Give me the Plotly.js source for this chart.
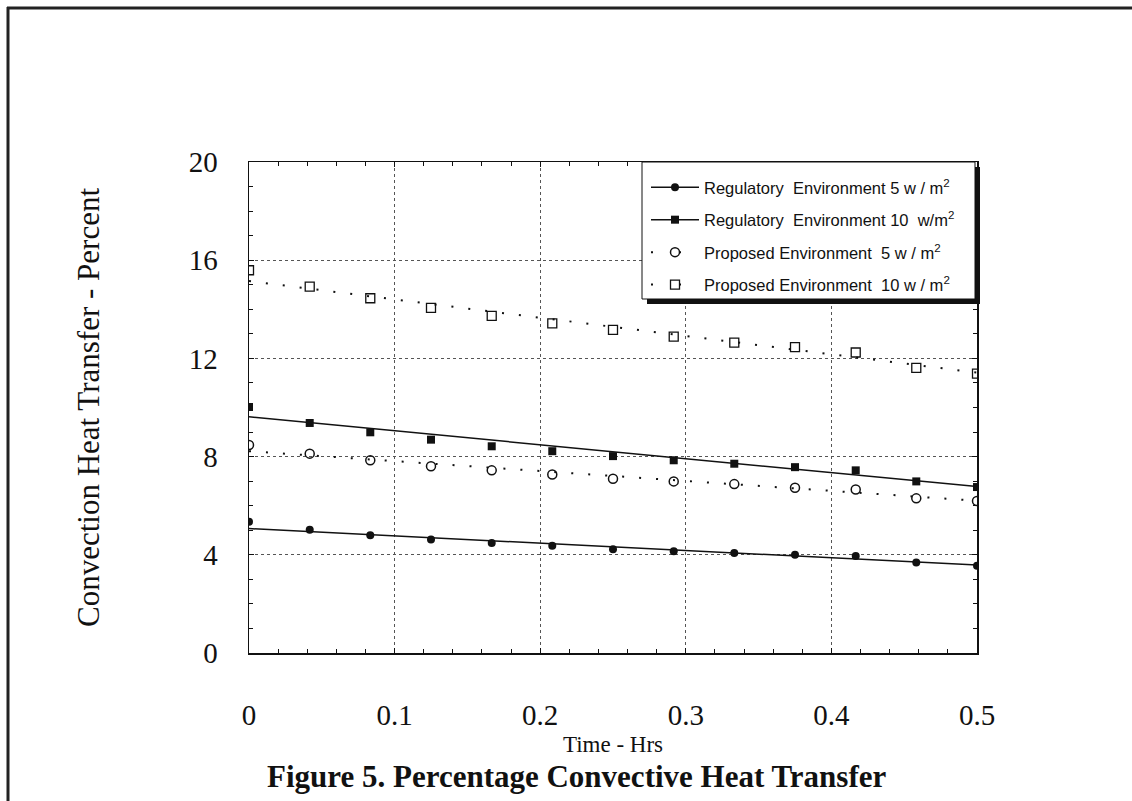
<!DOCTYPE html>
<html>
<head>
<meta charset="utf-8">
<script src="https://cdn.plot.ly/plotly-3.0.1.min.js"></script>
<style>html,body{margin:0;padding:0;background:#fff;}#chart{width:1132px;height:801px;}</style>
</head>
<body>
<div id="chart"></div>
<script>
// ---- data ----
const timeHrs   = [0, 0.0417, 0.0833, 0.125, 0.1667, 0.2083, 0.25, 0.2917, 0.3333, 0.375, 0.4167, 0.4583, 0.5];
const regEnv5   = [5.35, 5.02, 4.80, 4.62, 4.48, 4.37, 4.23, 4.14, 4.07, 4.00, 3.95, 3.69, 3.55];
const regEnv10  = [10.02, 9.37, 8.99, 8.69, 8.42, 8.22, 8.02, 7.85, 7.71, 7.57, 7.44, 6.99, 6.76];
const propEnv5  = [8.47, 8.12, 7.85, 7.61, 7.44, 7.27, 7.10, 6.99, 6.88, 6.73, 6.66, 6.30, 6.19];
const propEnv10 = [15.59, 14.92, 14.45, 14.06, 13.73, 13.43, 13.16, 12.89, 12.64, 12.46, 12.24, 11.61, 11.38];
// fitted trend lines (end points)
const fitX          = [0, 0.5];
const regEnv5Fit    = [5.07, 3.58];
const regEnv10Fit   = [9.62, 6.78];
const propEnv5Fit   = [8.22, 6.20];
const propEnv10Fit  = [15.15, 11.42];
const seriesNames = [
  'Regulatory\u00a0 Environment 5 w / m<sup>2</sup>',
  'Regulatory\u00a0 Environment 10\u00a0 w/m<sup>2</sup>',
  'Proposed Environment\u00a0 5 w / m<sup>2</sup>',
  'Proposed Environment\u00a0 10 w / m<sup>2</sup>'
];
const yTickVals = [0, 4, 8, 12, 16, 20];
const xTickVals = [0, 0.1, 0.2, 0.3, 0.4, 0.5];

const K = '#111';
const dotted = '2px,15px';
const serif = 'Liberation Serif, Times New Roman, serif';
const sans = 'Liberation Sans, Arial, sans-serif';

const seriesY = [regEnv5, regEnv10, propEnv5, propEnv10];
const fitsY = [regEnv5Fit, regEnv10Fit, propEnv5Fit, propEnv10Fit];
const markerStyles = [
  {symbol: 'circle', size: 8, color: K},
  {symbol: 'square', size: 8, color: K},
  {symbol: 'circle-open', size: 9, color: K, line: {width: 1.5, color: K}},
  {symbol: 'square-open', size: 9, color: K, line: {width: 1.3, color: K}}
];
const lineStyles = [
  {color: K, width: 1.5},
  {color: K, width: 1.5},
  {color: K, width: 2, dash: dotted},
  {color: K, width: 2, dash: dotted}
];
const legendLineStyles = [
  {color: K, width: 1.5},
  {color: K, width: 1.5},
  {color: K, width: 2, dash: '2px,26px'},
  {color: K, width: 2, dash: '2px,26px'}
];

const traces = [];
for (let i = 0; i < 4; i++) {
  traces.push({x: fitX, y: fitsY[i], mode: 'lines', line: lineStyles[i], showlegend: false, hoverinfo: 'skip'});
  traces.push({x: timeHrs, y: seriesY[i], mode: 'markers', marker: markerStyles[i], showlegend: false, name: seriesNames[i]});
}
for (let i = 0; i < 4; i++) {
  traces.push({x: [null], y: [null], mode: 'lines+markers', name: seriesNames[i], legendgroup: 'g' + i,
    line: legendLineStyles[i], marker: markerStyles[i]});
}

// pixel helpers for plot-area placement (plot spans x 249..977, y 162..653)
const L = 249, R = 977, T = 162, B = 653;
const px = v => (v - L) / (R - L);
const py = v => (B - v) / (B - T);

const layout = {
  width: 1132, height: 801,
  margin: {l: L, r: 1132 - R, t: T, b: 801 - B, pad: 0},
  paper_bgcolor: '#fff', plot_bgcolor: '#fff',
  showlegend: true,
  xaxis: {
    range: [0, 0.5], tickvals: xTickVals, ticks: 'inside', ticklen: 5, tickwidth: 1, tickcolor: K,
    minor: {dtick: 0.02, tick0: 0, ticks: 'inside', ticklen: 4, tickcolor: K, showgrid: false},
    showline: true, linewidth: 1.5, linecolor: K, mirror: 'ticks',
    showgrid: true, gridcolor: '#555', griddash: 'dot', gridwidth: 1, zeroline: false,
    tickfont: {family: serif, size: 29, color: K}, ticklabelstandoff: 36,
    title: {text: 'Time - Hrs', font: {family: serif, size: 23, color: K}, standoff: 5}
  },
  yaxis: {
    range: [0, 20], tickvals: yTickVals, ticks: 'inside', ticklen: 5, tickwidth: 1, tickcolor: K,
    minor: {dtick: 1, tick0: 0, ticks: 'inside', ticklen: 4, tickcolor: K, showgrid: false},
    showline: true, linewidth: 1.5, linecolor: K, mirror: 'ticks',
    showgrid: true, gridcolor: '#555', griddash: 'dot', gridwidth: 1, zeroline: false,
    tickfont: {family: serif, size: 29, color: K}, ticklabelstandoff: 24,
    title: {text: 'Convection Heat Transfer - Percent', font: {family: serif, size: 31, color: K}, standoff: 80}
  },
  legend: {
    x: px(646), y: py(170), xanchor: 'left', yanchor: 'top',
    bgcolor: 'rgba(0,0,0,0)', borderwidth: 0,
    font: {family: sans, size: 16.5, color: K},
    traceorder: 'grouped', tracegroupgap: 8, itemwidth: 48
  },
  shapes: [
    // outer page frame (top and left)
    {type: 'line', xref: 'paper', yref: 'paper', x0: px(7), x1: px(1132), y0: py(8), y1: py(8), line: {color: '#222', width: 3}},
    {type: 'line', xref: 'paper', yref: 'paper', x0: px(8), x1: px(8), y0: py(7), y1: py(801), line: {color: '#222', width: 3}},
    // legend box shadow and box
    {type: 'rect', xref: 'paper', yref: 'paper', layer: 'above', x0: px(647), x1: px(980), y0: py(304), y1: py(167),
      fillcolor: '#111', line: {width: 0}},
    {type: 'rect', xref: 'paper', yref: 'paper', layer: 'above', x0: px(642), x1: px(975), y0: py(299), y1: py(162),
      fillcolor: '#fff', line: {color: K, width: 1}}
  ],
  annotations: [
    {xref: 'paper', yref: 'paper', x: px(576), y: py(776), xanchor: 'center', yanchor: 'middle', showarrow: false,
      text: '<b>Figure 5. Percentage Convective Heat Transfer</b>', font: {family: serif, size: 31, color: K}}
  ]
};

Plotly.newPlot('chart', traces, layout, {staticPlot: true, displayModeBar: false});
</script>
</body>
</html>
